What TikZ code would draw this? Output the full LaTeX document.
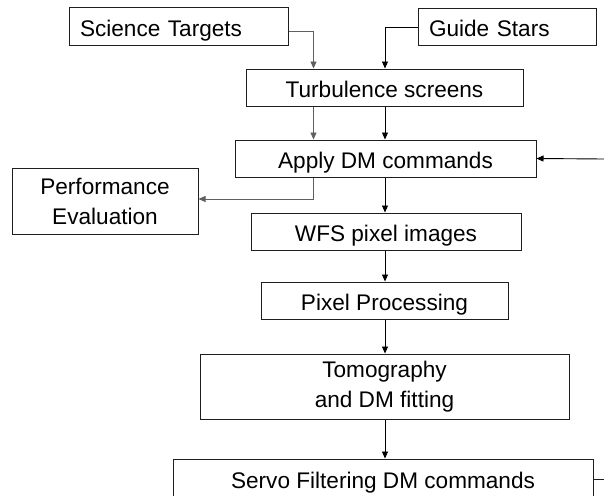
\documentclass[tikz,border=0pt]{standalone}
\usepackage{fontspec}
\setmainfont{Liberation Sans}
\usetikzlibrary{arrows.meta}
\definecolor{linkgray}{RGB}{95,95,95}
\definecolor{boxline}{RGB}{30,30,30}
\tikzset{
  stagebox/.style={draw=boxline, line width=1pt, rectangle, inner sep=0pt,
    align=center, font=\fontsize{22.6}{30}\selectfont},
  oneline/.style={text height=19pt, text depth=0pt},
  lblbox/.style={stagebox, oneline, align=left, inner xsep=11pt},
  flow/.style={draw=black, line width=0.9pt, -{Triangle[width=6pt,length=7pt]}},
  side/.style={draw=linkgray, line width=0.9pt, -{Triangle[width=6pt,length=7pt]}},
  plain/.style={draw=boxline, line width=0.9pt}
}
\begin{document}
\begin{tikzpicture}[x=1pt,y=-1pt]
\useasboundingbox (0,0) rectangle (604,495);
\clip (0,0) rectangle (604,495);

% boxes
\node[lblbox, text width=197pt, minimum height=38pt] (sci) at (178.5,27) {Science Targets};
\node[lblbox, text width=156pt, minimum height=37pt] (guide) at (507,27.5) {Guide Stars};
\node[stagebox, oneline, minimum width=277pt, minimum height=37pt] (turb) at (384.5,87.5) {Turbulence screens};
\node[stagebox, oneline, minimum width=301pt, minimum height=37pt] (apply) at (385.5,158.5) {Apply DM commands};
\node[stagebox, minimum width=186pt, minimum height=66pt] (perf) at (105,201) {Performance\\Evaluation};
\node[stagebox, oneline, minimum width=270pt, minimum height=37pt] (wfs) at (386,231.5) {WFS pixel images};
\node[stagebox, oneline, minimum width=247pt, minimum height=37pt] (pix) at (384.5,300.5) {Pixel Processing};
\node[stagebox, minimum width=369pt, minimum height=65pt] (tomo) at (384.5,386.5) {Tomography\\and DM fitting};
\node[stagebox, oneline, minimum width=420pt, minimum height=40pt] (servo) at (383,479) {Servo Filtering DM commands};

% reference points
\coordinate (spine) at (385,0);
\coordinate (sideline) at (313.5,0);
\coordinate (loopin) at (604,159);
\coordinate (loopout) at (604,479);

% science path (gray)
\draw[side] ([yshift=-4pt]sci.east) -| (turb.north -| sideline);
\draw[side] (turb.south -| sideline) -- (apply.north -| sideline);
\draw[side] (apply.south -| sideline) |- ([yshift=2pt]perf.east);

% wavefront path (black)
\draw[flow] (guide.west) -| (turb.north -| spine);
\draw[flow] (turb.south -| spine) -- (apply.north -| spine);
\draw[flow] (loopin) -- (apply.east);
\draw[flow] (apply.south -| spine) -- (wfs.north -| spine);
\draw[flow] (wfs.south -| spine) -- (pix.north -| spine);
\draw[flow] (pix.south -| spine) -- (tomo.north -| spine);
\draw[flow] (tomo.south -| spine) -- (servo.north -| spine);
\draw[plain] (servo.east) -- (loopout);
\end{tikzpicture}
\end{document}
